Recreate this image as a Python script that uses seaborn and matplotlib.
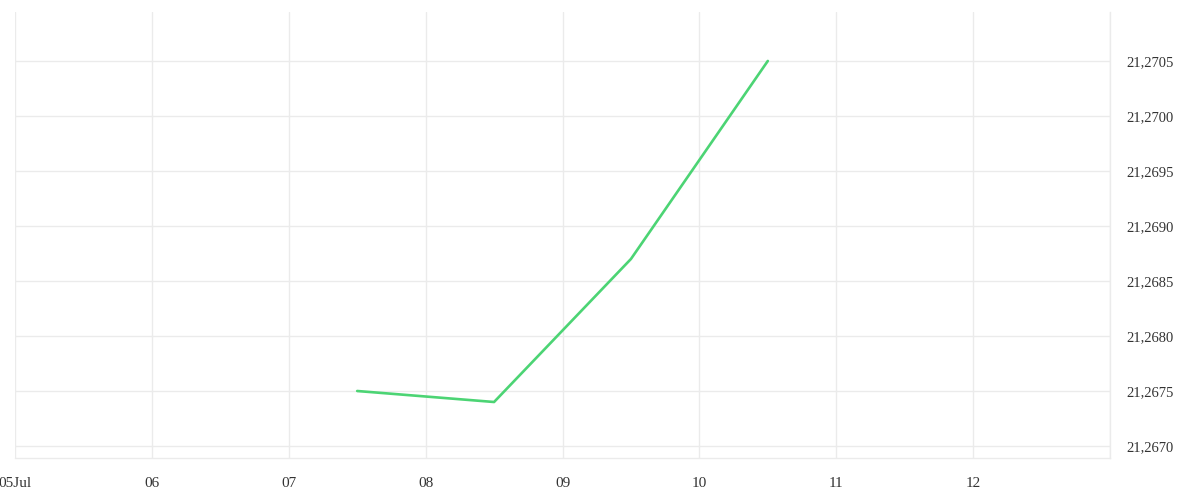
import matplotlib
matplotlib.use("Agg")
import matplotlib.pyplot as plt
import matplotlib.dates as mdates
import matplotlib.ticker as mticker
import seaborn as sns
import pandas as pd

# Data
dates = ["2024-07-07 12:00", "2024-07-08 12:00", "2024-07-09 12:00", "2024-07-10 12:00"]
values = [21.2675, 21.2674, 21.2687, 21.2705]
tick_dates = ["2024-07-05", "2024-07-06", "2024-07-07", "2024-07-08",
              "2024-07-09", "2024-07-10", "2024-07-11", "2024-07-12", "2024-07-13"]
tick_labels = ["05Jul", "06", "07", "08", "09", "10", "11", "12", ""]
y_ticks = [21.2670, 21.2675, 21.2680, 21.2685, 21.2690, 21.2695, 21.2700, 21.2705]

df = pd.DataFrame({"date": pd.to_datetime(dates), "value": values})

sns.set_theme(style="white")
plt.rcParams["font.family"] = ["Liberation Serif", "DejaVu Serif"]

fig = plt.figure(figsize=(12, 5), dpi=100)
ax = fig.add_axes([15/1200, 42/500, 1095/1200, 446/500])

grid_c = "#ebebeb"
sns.lineplot(data=df, x="date", y="value", ax=ax, color="#4cd474", linewidth=1.9)

tds = pd.to_datetime(tick_dates)
ax.set_xlim(mdates.date2num(tds[0]) - 1e-6, mdates.date2num(tds[-1]) + 1e-6)
ax.set_ylim(21.266891, 21.270945)
ax.set_xticks(mdates.date2num(tds))
ax.set_xticklabels(tick_labels)
ax.set_yticks(y_ticks)
ax.yaxis.set_major_formatter(mticker.FuncFormatter(lambda v, p: f"{v:.4f}".replace(".", ",")))
ax.yaxis.tick_right()

ax.grid(True, color=grid_c, linewidth=1)
for s in ["top", "left"]:
    ax.spines[s].set_visible(False)
for s in ["bottom", "right"]:
    ax.spines[s].set_color(grid_c)
    ax.spines[s].set_linewidth(1)

ax.tick_params(axis="x", length=7.5, width=1, color=grid_c, labelsize=11, labelcolor="#333333", pad=6)
ax.tick_params(axis="y", length=0, labelsize=10.5, labelcolor="#333333", pad=11.5)
ax.set_xlabel("")
ax.set_ylabel("")

fig.savefig("out.png", dpi=100, facecolor="white")
